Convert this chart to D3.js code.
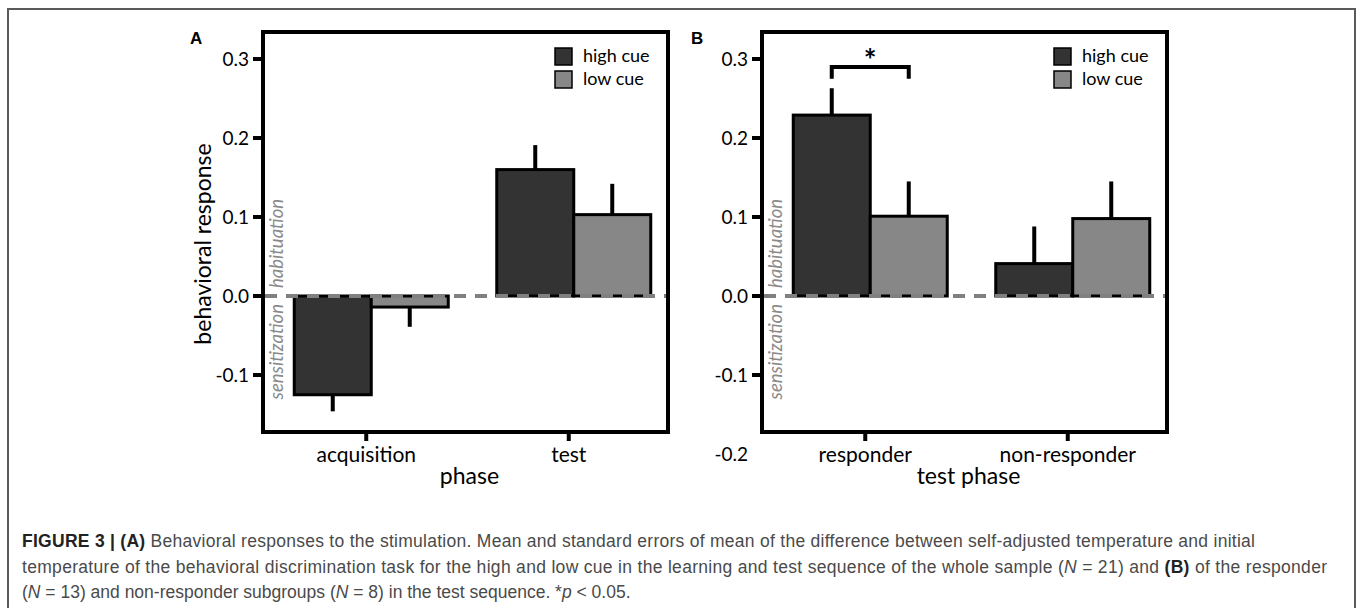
<!DOCTYPE html>
<html>
<head>
<meta charset="utf-8">
<script src="https://cdnjs.cloudflare.com/ajax/libs/d3/7.8.5/d3.min.js"></script>
<style>
  body { margin: 0; background: #fff; }
  svg { display: block; }
</style>
</head>
<body>
<svg id="fig" width="1358" height="608"></svg>
<script>
// panel A: whole sample
var categoriesA = ["acquisition", "test"];
var highA = [-0.125, 0.160];
var highErrA = [0.021, 0.031];
var lowA = [-0.014, 0.103];
var lowErrA = [0.025, 0.039];
var ticksA = [-0.1, 0.0, 0.1, 0.2, 0.3];

// panel B: test phase subgroups
var categoriesB = ["responder", "non-responder"];
var highB = [0.229, 0.041];
var highErrB = [0.034, 0.047];
var lowB = [0.101, 0.098];
var lowErrB = [0.044, 0.047];
var ticksB = [-0.2, -0.1, 0.0, 0.1, 0.2, 0.3];

var cues = ["high cue", "low cue"];
var cueColors = ["#333333", "#878787"];

var font = "Lato, 'Open Sans', sans-serif";
var svg = d3.select("#fig");

// plain hyphen for negative ticks, like the original
function fmt(t) {
  return d3.format(".1f")(t).replace("\u2212", "-");
}

// outer frame of the figure page
svg.append("rect")
    .attr("x", 8).attr("y", 9)
    .attr("width", 1347).attr("height", 640)
    .attr("fill", "none")
    .attr("stroke", "#5a5a5a")
    .attr("stroke-width", 2);

function drawPanel(opts) {
  var left = opts.left, right = opts.left + 405, top = 32, bottom = 432;

  var y = d3.scaleLinear().domain([-0.2, 0.3]).range([454, 59]);
  var x0 = d3.scaleBand().domain(opts.categories).range([left, right]);
  var x1 = d3.scaleBand().domain(cues).range([0, 154]);

  var g = svg.append("g");

  var rows = [];
  opts.categories.forEach(function(c, i) {
    rows.push({ cat: c, cue: cues[0], v: opts.high[i], e: opts.highErr[i] });
    rows.push({ cat: c, cue: cues[1], v: opts.low[i], e: opts.lowErr[i] });
  });
  var barX = d => x0(d.cat) + x0.bandwidth() / 2 - 70 + x1(d.cue);

  // error bars (one-sided)
  g.selectAll(".err")
    .data(rows)
    .enter()
    .append("line")
      .attr("x1", d => barX(d) + x1.bandwidth() / 2)
      .attr("x2", d => barX(d) + x1.bandwidth() / 2)
      .attr("y1", d => y(d.v))
      .attr("y2", d => y(d.v + (d.v < 0 ? -d.e : d.e)))
      .attr("stroke", "#000")
      .attr("stroke-width", 4);

  g.selectAll(".bar")
    .data(rows)
    .enter()
    .append("rect")
      .attr("x", barX)
      .attr("width", x1.bandwidth())
      .attr("y", d => Math.min(y(d.v), y(0)))
      .attr("height", d => Math.abs(y(d.v) - y(0)))
      .attr("fill", d => cueColors[cues.indexOf(d.cue)])
      .attr("stroke", "#000")
      .attr("stroke-width", 3);

  // zero line
  g.append("line")
      .attr("x1", left + 2).attr("x2", right - 2)
      .attr("y1", y(0)).attr("y2", y(0))
      .attr("stroke", "#808080")
      .attr("stroke-width", 4)
      .attr("stroke-dasharray", "12,9");

  // box
  g.append("rect")
      .attr("x", left).attr("y", top)
      .attr("width", right - left).attr("height", bottom - top)
      .attr("fill", "none")
      .attr("stroke", "#000")
      .attr("stroke-width", 4);

  // y ticks
  opts.ticks.forEach(function(t) {
    if (y(t) > top && y(t) < bottom) {
      g.append("line")
          .attr("x1", left - 10).attr("x2", left)
          .attr("y1", y(t)).attr("y2", y(t))
          .attr("stroke", "#000").attr("stroke-width", 4);
    }
    g.append("text")
        .attr("x", left - 14).attr("y", y(t))
        .attr("dy", "0.35em")
        .style("text-anchor", "end")
        .style("font-family", font)
        .style("font-size", "19px")
        .text(fmt(t));
  });

  // x ticks
  opts.categories.forEach(function(c) {
    var cx = x0(c) + x0.bandwidth() / 2 + 2;
    g.append("line")
        .attr("x1", cx).attr("x2", cx)
        .attr("y1", bottom).attr("y2", bottom + 9)
        .attr("stroke", "#000").attr("stroke-width", 4);
    g.append("text")
        .attr("x", cx).attr("y", 462)
        .style("text-anchor", "middle")
        .style("font-family", font)
        .style("font-size", "21px")
        .text(c);
  });

  g.append("text")
      .attr("x", (left + right) / 2 + 4).attr("y", 484)
      .style("text-anchor", "middle")
      .style("font-family", font)
      .style("font-size", "23px")
      .text(opts.xTitle);

  // habituation / sensitization notes
  g.append("text")
      .attr("transform", "translate(" + (left + 20) + "," + (y(0) - 8) + ") rotate(-90)")
      .style("font-family", font)
      .style("font-style", "italic")
      .style("font-size", "18.5px")
      .style("fill", "#8a8a8a")
      .text("habituation");
  g.append("text")
      .attr("transform", "translate(" + (left + 20) + "," + (y(0) + 8) + ") rotate(-90)")
      .style("text-anchor", "end")
      .style("font-family", font)
      .style("font-style", "italic")
      .style("font-size", "18.5px")
      .style("fill", "#8a8a8a")
      .text("sensitization");

  // legend
  cues.forEach(function(c, i) {
    g.append("rect")
        .attr("x", left + 292).attr("y", 48 + i * 23)
        .attr("width", 17).attr("height", 17)
        .attr("fill", cueColors[i])
        .attr("stroke", "#000")
        .attr("stroke-width", 1.5);
    g.append("text")
        .attr("x", left + 320).attr("y", 62 + i * 23)
        .style("font-family", font)
        .style("font-size", "18px")
        .text(c);
  });

  // panel letter
  g.append("text")
      .attr("x", opts.letterX).attr("y", 44)
      .style("font-family", "'Liberation Sans', Arial, sans-serif")
      .style("font-weight", "bold")
      .style("font-size", "17px")
      .text(opts.letter);

  if (opts.yTitle) {
    g.append("text")
        .attr("transform", "translate(211,244) rotate(-90)")
        .style("text-anchor", "middle")
        .style("font-family", font)
        .style("font-size", "23px")
        .text(opts.yTitle);
  }

  if (opts.sig) {
    var a = rows[0], b = rows[1];
    var xa = barX(a) + x1.bandwidth() / 2, xb = barX(b) + x1.bandwidth() / 2;
    g.append("path")
        .attr("d", "M" + xa + "," + y(0.275) + "V" + y(0.29) + "H" + xb + "V" + y(0.275))
        .attr("fill", "none")
        .attr("stroke", "#000")
        .attr("stroke-width", 4);
    g.append("text")
        .attr("x", (xa + xb) / 2).attr("y", y(0.29) + 4)
        .style("text-anchor", "middle")
        .style("font-family", font)
        .style("font-weight", "bold")
        .style("font-size", "30px")
        .text("*");
  }
}

drawPanel({ left: 263, categories: categoriesA, high: highA, highErr: highErrA,
            low: lowA, lowErr: lowErrA, ticks: ticksA, xTitle: "phase",
            yTitle: "behavioral response", letter: "A", letterX: 190 });
drawPanel({ left: 762, categories: categoriesB, high: highB, highErr: highErrB,
            low: lowB, lowErr: lowErrB, ticks: ticksB, xTitle: "test phase",
            letter: "B", letterX: 691, sig: true });

// caption
var caption = [
  [["FIGURE 3 | ", "b"], ["(A)", "b"], [" Behavioral responses to the stimulation. Mean and standard errors of mean of the difference between self-adjusted temperature and initial", ""]],
  [["temperature of the behavioral discrimination task for the high and low cue in the learning and test sequence of the whole sample (", ""], ["N", "i"], [" = 21) and ", ""], ["(B)", "b"], [" of the responder", ""]],
  [["(", ""], ["N", "i"], [" = 13) and non-responder subgroups (", ""], ["N", "i"], [" = 8) in the test sequence. *", ""], ["p", "i"], [" < 0.05.", ""]]
];
var capLengths = [1233, 1305, null];

caption.forEach(function(line, i) {
  var t = svg.append("text")
      .attr("x", 22).attr("y", 547 + i * 25.5)
      .style("font-family", "'Liberation Sans', Arial, sans-serif")
      .style("font-size", "17.5px")
      .style("fill", "#4a4a4a");
  if (capLengths[i]) t.attr("textLength", capLengths[i]).attr("lengthAdjust", "spacing");
  line.forEach(function(s) {
    t.append("tspan")
        .style("font-weight", s[1] === "b" ? "bold" : null)
        .style("font-style", s[1] === "i" ? "italic" : null)
        .style("fill", s[1] === "b" ? "#222" : null)
        .text(s[0]);
  });
});
</script>
</body>
</html>
